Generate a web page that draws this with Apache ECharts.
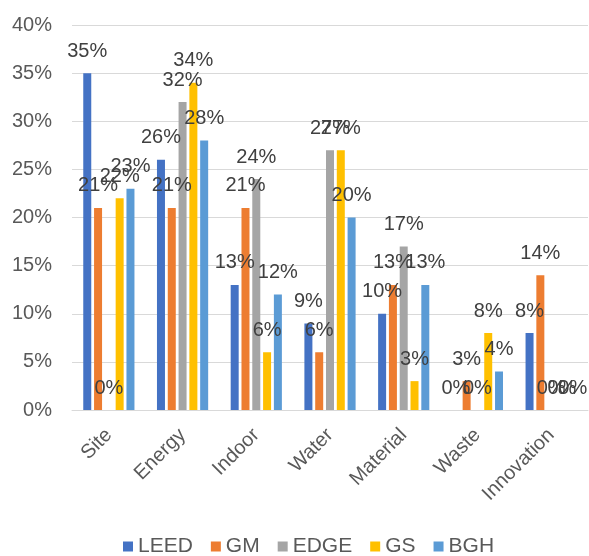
<!DOCTYPE html>
<html>
<head>
<meta charset="utf-8">
<script src="https://cdn.jsdelivr.net/npm/echarts@6/dist/echarts.min.js"></script>
<style>
  html, body { margin: 0; padding: 0; background: #fff; }
  #chart { width: 589px; height: 556px; }
</style>
</head>
<body>
<div id="chart"></div>
<script>
var categories = ["Site", "Energy", "Indoor", "Water", "Material", "Waste", "Innovation"];
var seriesNames = ["LEED", "GM", "EDGE", "GS", "BGH"];
var leed = [35, 26, 13, 9, 10, 0, 8];
var gm = [21, 21, 21, 6, 13, 3, 14];
var edge = [0, 32, 24, 27, 17, 0, 0];
var gs = [22, 34, 6, 27, 3, 8, 0];
var bgh = [23, 28, 12, 20, 13, 4, 0];
var colors = ["#4472C4", "#ED7D31", "#A5A5A5", "#FFC000", "#5B9BD5"];

var font = "Liberation Sans";
var values = [leed, gm, edge, gs, bgh];

var chart = echarts.init(document.getElementById("chart"));
chart.setOption({
  animation: false,
  textStyle: { fontFamily: font },
  grid: { left: 72, right: 1, top: 25, bottom: 146 },
  legend: {
    bottom: -6,
    left: 118,
    itemWidth: 10,
    itemHeight: 10,
    itemGap: 18,
    icon: "rect",
    textStyle: { fontSize: 21, color: "#595959", fontFamily: font },
    data: seriesNames
  },
  xAxis: {
    type: "category",
    data: categories,
    axisLine: { lineStyle: { color: "#D9D9D9" } },
    axisTick: { show: false },
    axisLabel: { rotate: 45, fontSize: 20, color: "#595959", margin: 22, interval: 0 }
  },
  yAxis: {
    type: "value",
    min: 0,
    max: 40,
    interval: 5,
    axisLine: { show: false },
    axisTick: { show: false },
    splitLine: { lineStyle: { color: "#D9D9D9", width: 1 } },
    axisLabel: { formatter: "{value}%", fontSize: 20, color: "#595959", margin: 20 }
  },
  series: seriesNames.map(function (name, i) {
    return {
      name: name,
      type: "bar",
      data: values[i],
      barWidth: 8,
      barGap: "35%",
      itemStyle: { color: colors[i] },
      label: {
        show: true,
        position: "top",
        distance: 12,
        formatter: "{c}%",
        fontSize: 20,
        color: "#404040",
        fontFamily: font
      }
    };
  })
});
</script>
</body>
</html>
